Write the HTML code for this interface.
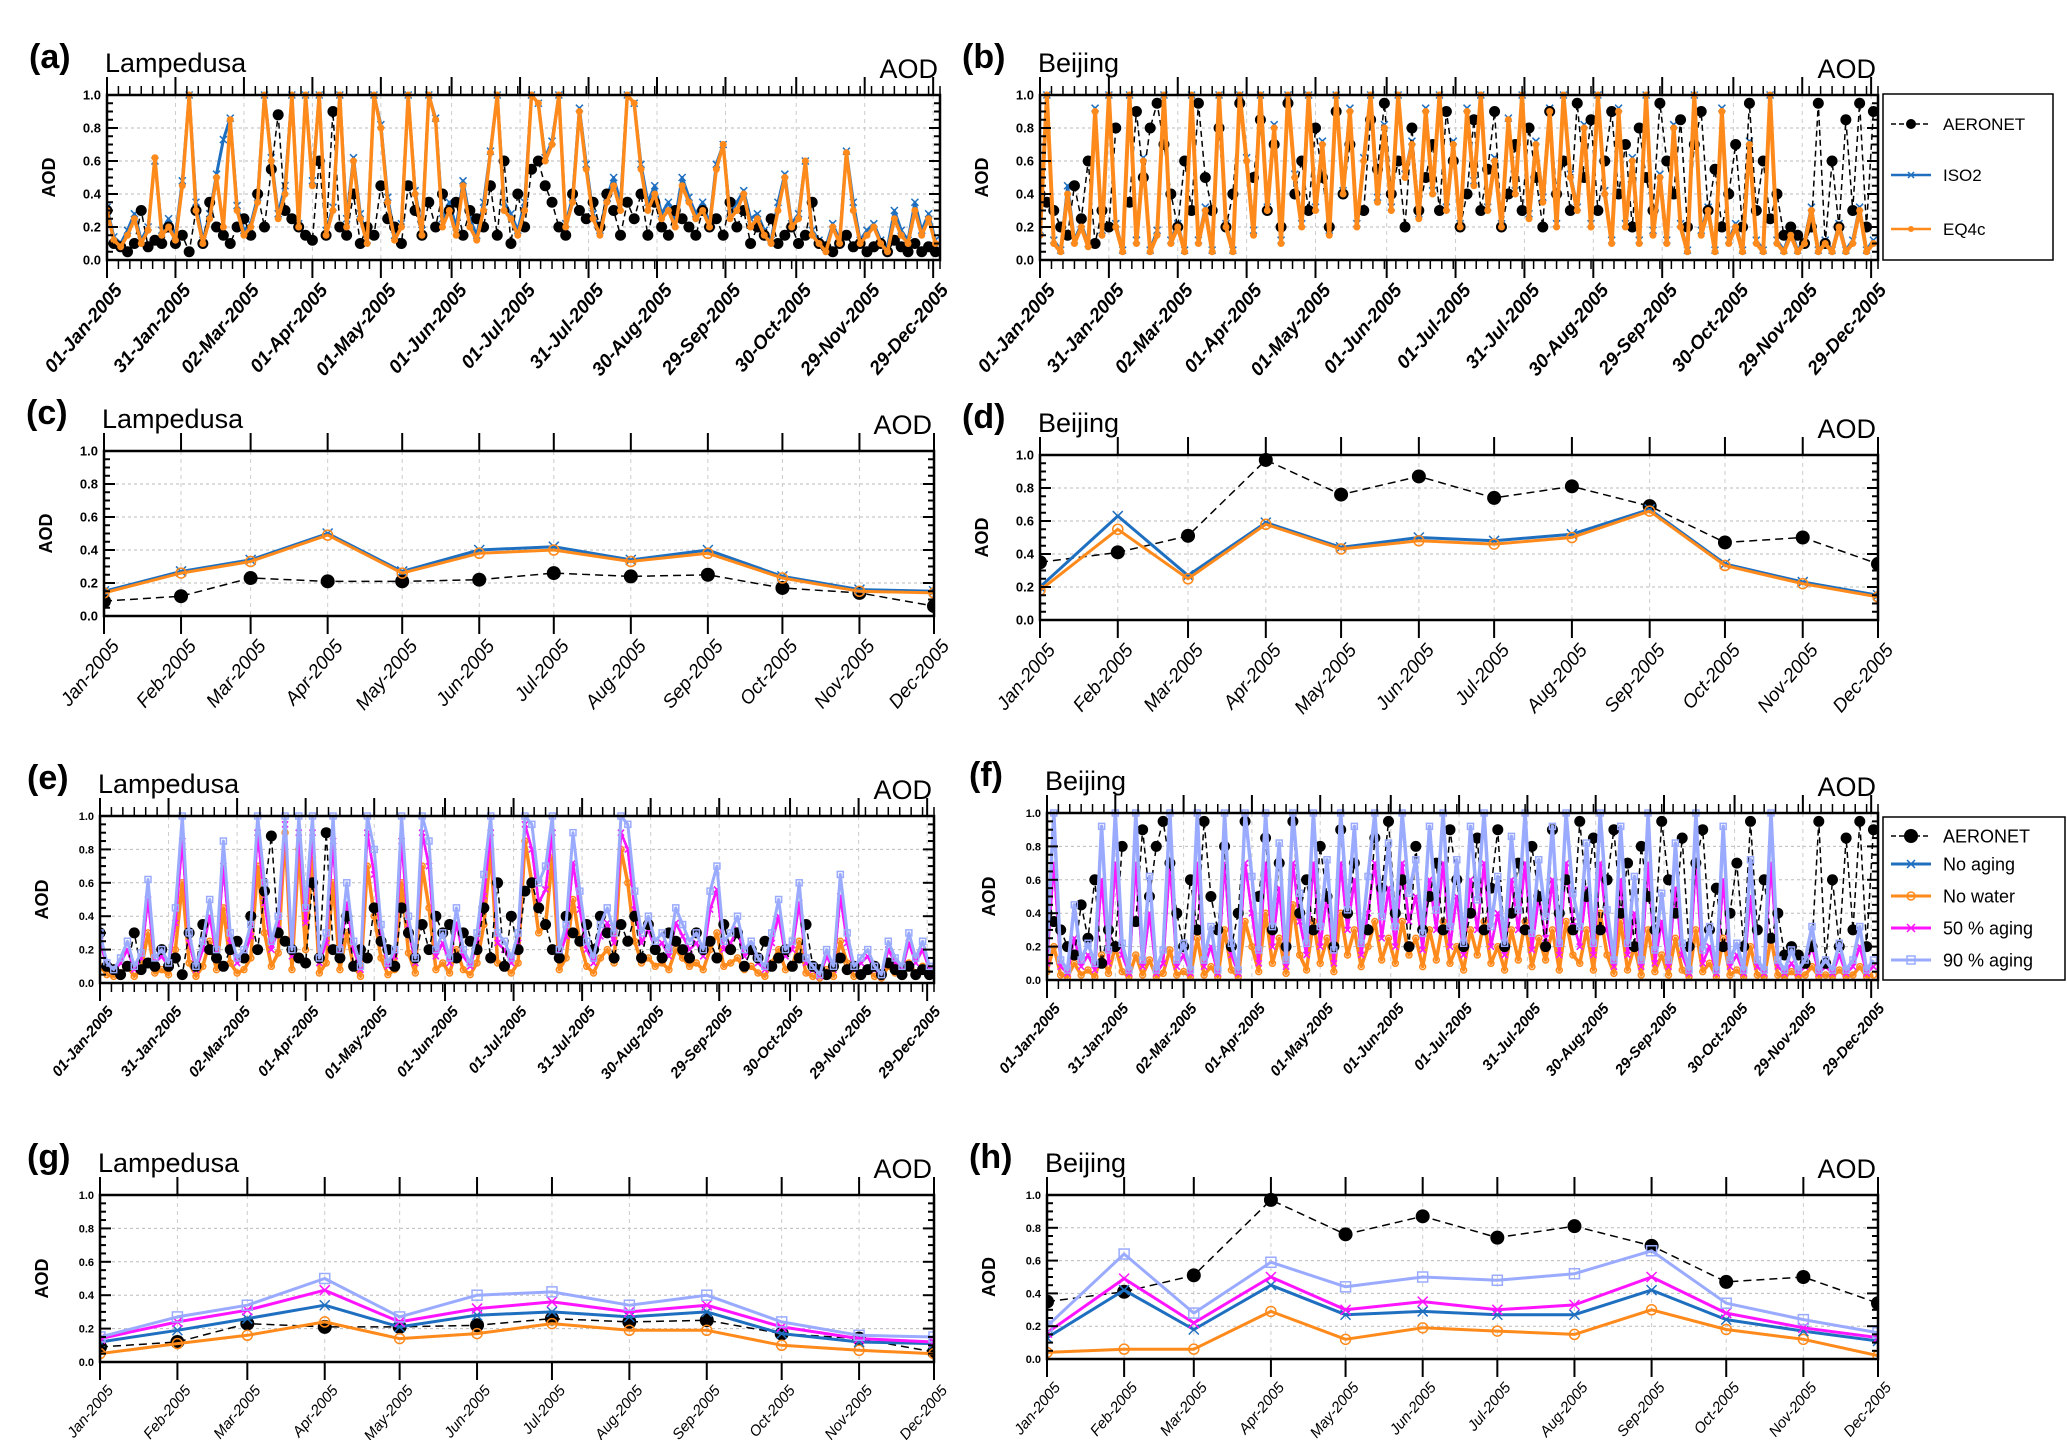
<!DOCTYPE html>
<html><head><meta charset="utf-8"><style>
html,body{margin:0;padding:0;background:#fff;}
svg{display:block;font-family:"Liberation Sans",sans-serif;}
</style></head><body>
<svg id="fig" width="2067" height="1440" viewBox="0 0 2067 1440" xmlns="http://www.w3.org/2000/svg">
<rect x="0" y="0" width="2067" height="1440" fill="#fff"/>
</svg>
<script>
// ---------- monthly data ----------
const monthLabels = ["Jan-2005","Feb-2005","Mar-2005","Apr-2005","May-2005","Jun-2005","Jul-2005","Aug-2005","Sep-2005","Oct-2005","Nov-2005","Dec-2005"];
const monthDays = [0,31,59,90,120,151,181,212,243,273,304,334];
const dayTickLabels = ["01-Jan-2005","31-Jan-2005","02-Mar-2005","01-Apr-2005","01-May-2005","01-Jun-2005","01-Jul-2005","31-Jul-2005","30-Aug-2005","29-Sep-2005","30-Oct-2005","29-Nov-2005","29-Dec-2005"];
const dayTickPos = [0,30,60,90,120,151,181,211,241,271,302,332,362];

const lampMonAer = [.09,.12,.23,.21,.21,.22,.26,.24,.25,.17,.14,.06];
const lampMonISO2 = [.15,.27,.34,.50,.27,.40,.42,.34,.40,.24,.16,.15];
const lampMonEQ4c = [.14,.26,.33,.49,.26,.38,.40,.33,.38,.23,.15,.14];
const beijMonAer = [.35,.41,.51,.97,.76,.87,.74,.81,.69,.47,.50,.34];
const beijMonISO2 = [.20,.63,.27,.59,.44,.50,.48,.52,.67,.34,.23,.15];
const beijMonEQ4c = [.18,.55,.25,.58,.43,.48,.46,.50,.66,.33,.22,.14];
const lampMonNoAging = [.12,.19,.26,.34,.21,.28,.30,.27,.30,.17,.12,.11];
const lampMonNoWater = [.05,.11,.16,.24,.14,.17,.23,.19,.19,.10,.07,.05];
const lampMonFifty = [.14,.24,.31,.43,.24,.32,.36,.30,.34,.21,.14,.12];
const lampMonNinety = [.15,.27,.34,.50,.27,.40,.42,.34,.40,.24,.16,.15];
const beijMonNoAging = [.13,.42,.18,.45,.27,.29,.27,.27,.42,.24,.17,.11];
const beijMonNoWater = [.04,.06,.06,.29,.12,.19,.17,.15,.30,.18,.12,.02];
const beijMonFifty = [.16,.49,.22,.50,.30,.35,.30,.33,.50,.28,.19,.13];
const beijMonNinety = [.20,.64,.28,.59,.44,.50,.48,.52,.66,.34,.24,.16];

// ---------- daily data (every 3 days) ----------
const lampDayAer = [.30,.10,.08,.05,.10,.30,.08,.12,.10,.20, .10,.15,.05,.30,.10,.35,.20,.15,.10,.20, .25,.15,.40,.20,.55,.88,.30,.25,.20,.15, .12,.60,.15,.90,.20,.15,.40,.10,.20,.15, .45,.25,.20,.10,.45,.30,.15,.35,.20,.40, .30,.35,.15,.30,.25,.20,.45,.15,.60,.10, .40,.20,.55,.60,.45,.35,.20,.15,.40,.30, .25,.35,.20,.40,.30,.15,.35,.25,.40,.15, .35,.20,.15,.30,.25,.20,.15,.30,.20,.25, .15,.35,.20,.30,.10,.20,.15,.25,.10,.15, .20,.10,.15,.35,.10,.08,.05,.10,.15,.08, .10,.05,.08,.10,.05,.12,.08,.05,.10,.05,.08,.05];
const lampDayEQ4c = [.30,.12,.08,.15,.25,.10,.18,.62,.15,.20, .12,.45,1.0,.30,.10,.25,.50,.20,.85,.30, .15,.20,.35,1.0,.60,.25,.40,1.0,.20,1.0, .45,1.0,.15,.30,1.0,.20,.60,.25,.10,1.0, .80,.35,.12,.20,1.0,.40,.15,1.0,.85,.20, .30,.15,.45,.20,.12,.30,.65,1.0,.30,.25, .15,.30,1.0,.95,.60,.70,1.0,.20,.35,.90, .55,.25,.15,.35,.45,.30,1.0,.95,.55,.30, .40,.25,.30,.20,.45,.35,.25,.30,.20,.55, .70,.25,.30,.40,.20,.25,.15,.10,.30,.50, .20,.25,.60,.15,.10,.05,.20,.10,.65,.30, .10,.15,.20,.10,.05,.25,.15,.10,.30,.15,.25,.10];
const lampDayISO2 = [.32,.14,.10,.18,.28,.12,.20,.60,.18,.25, .15,.48,1.0,.35,.12,.28,.52,.73,.86,.33, .18,.22,.38,1.0,.62,.28,.45,1.0,.22,1.0, .48,1.0,.18,.32,1.0,.25,.62,.28,.12,1.0, .82,.38,.15,.22,1.0,.42,.18,1.0,.86,.25, .35,.20,.48,.25,.15,.35,.66,1.0,.35,.28, .18,.35,1.0,.95,.62,.72,1.0,.22,.38,.92, .58,.28,.18,.38,.50,.35,1.0,.95,.58,.35, .45,.28,.35,.25,.50,.38,.28,.35,.22,.58, .70,.28,.35,.42,.25,.28,.18,.12,.35,.52, .22,.28,.60,.18,.12,.08,.22,.12,.66,.35, .12,.18,.22,.12,.08,.30,.18,.12,.35,.18,.28,.12];
const lampDayNoWater = [.10,.05,.04,.06,.10,.04,.08,.30,.06,.08, .05,.20,.60,.12,.04,.10,.25,.08,.45,.12, .06,.08,.15,.70,.30,.10,.18,.90,.08,.80, .20,.75,.06,.12,.60,.08,.30,.10,.04,.70, .40,.15,.05,.08,.60,.18,.06,.70,.45,.08, .12,.06,.20,.08,.05,.12,.35,.80,.12,.10, .06,.12,.85,.60,.30,.35,.75,.08,.15,.50, .25,.10,.06,.15,.20,.12,.80,.60,.25,.12, .15,.10,.12,.08,.20,.15,.10,.12,.08,.20, .30,.10,.12,.15,.08,.10,.06,.04,.12,.20, .08,.10,.25,.06,.04,.03,.08,.04,.25,.12, .04,.06,.08,.04,.03,.10,.06,.04,.12,.06,.10,.04];
const lampDayFifty = [.25,.10,.07,.12,.20,.08,.15,.50,.12,.16, .10,.36,.85,.24,.08,.20,.40,.16,.70,.24, .12,.16,.28,.90,.48,.20,.32,.95,.16,.90, .36,.90,.12,.24,.85,.16,.48,.20,.08,.90, .65,.28,.10,.16,.85,.32,.12,.90,.70,.16, .24,.12,.36,.16,.10,.24,.52,.90,.24,.20, .12,.24,.95,.80,.48,.56,.90,.16,.28,.72, .44,.20,.12,.28,.36,.24,.90,.80,.44,.24, .32,.20,.24,.16,.36,.28,.20,.24,.16,.44, .56,.20,.24,.32,.16,.20,.12,.08,.24,.40, .16,.20,.48,.12,.08,.04,.16,.08,.52,.24, .08,.12,.16,.08,.04,.20,.12,.08,.24,.12,.20,.08];
const beijDayAer = [.40,.35,.30,.20,.15,.45,.25,.60,.10,.30, .20,.80,null,.35,.90,.50,.80,.95,.70,.40, .20,.60,.30,.95,.50,.30,.80,.20,.40,.95, null,.50,.85,.30,.70,.20,.95,.40,.60,.30, .80,.50,.20,.90,.40,.70,null,.30,.85,.55, .95,.40,.60,.20,.80,.30,.50,.70,.30,.90, .60,.20,.40,.85,.30,.55,.90,.20,.40,.70, .30,.80,.50,.20,.90,.40,.60,.30,.95,.50, .85,.30,.60,.90,.40,.70,.20,.80,.50,.30, .95,.60,.40,.85,.20,.70,.90,.30,.55,.20, .40,.70,.20,.95,.30,.60,.25,.40,.15,.20, .15,.10,.20,.95,.10,.60,.20,.85,.30,.95,.20,.90];
const beijDayEQ4c = [.15,1.0,.10,.05,.40,.10,.20,.08,.90,.15, 1.0,.20,.05,1.0,.10,.60,.05,.15,1.0,.10, .20,.05,1.0,.10,.30,.05,1.0,.20,.05,1.0, .60,.15,1.0,.30,.80,.10,1.0,.50,.20,1.0, .30,.70,.15,1.0,.40,.90,.20,.60,1.0,.35, .80,.30,1.0,.50,.70,.25,.90,.40,1.0,.30, .70,.20,.90,.45,1.0,.30,.60,.20,.85,.40, 1.0,.25,.70,.35,.90,.20,1.0,.50,.30,.80, .20,1.0,.40,.10,.90,.20,.60,.10,1.0,.15, .50,.10,.80,.20,.05,1.0,.15,.30,.05,.90, .10,.20,.05,.70,.10,.05,1.0,.10,.05,.15, .05,.10,.30,.05,.10,.05,.20,.05,.10,.30,.05,.10];
const beijDayISO2 = [.18,1.0,.12,.06,.45,.12,.22,.10,.92,.18, 1.0,.22,.06,1.0,.12,.62,.06,.18,1.0,.12, .22,.06,1.0,.12,.32,.06,1.0,.22,.06,1.0, .62,.18,1.0,.32,.82,.12,1.0,.52,.22,1.0, .32,.72,.18,1.0,.42,.92,.22,.62,1.0,.38, .82,.32,1.0,.52,.72,.28,.92,.42,1.0,.32, .72,.22,.92,.48,1.0,.32,.62,.22,.86,.42, 1.0,.28,.72,.38,.92,.22,1.0,.52,.32,.82, .22,1.0,.42,.12,.92,.22,.62,.12,1.0,.18, .52,.12,.82,.22,.06,1.0,.18,.32,.06,.92, .12,.22,.06,.72,.12,.06,1.0,.12,.06,.18, .06,.12,.32,.06,.12,.06,.22,.06,.12,.32,.06,.12];
const beijDayNoWater = [.05,.20,.03,.02,.10,.03,.06,.02,.15,.04, .20,.05,.02,.15,.03,.12,.02,.04,.18,.03, .05,.02,.25,.03,.08,.02,.30,.06,.02,.35, .20,.05,.40,.10,.25,.04,.45,.15,.06,.35, .10,.25,.05,.40,.15,.30,.08,.20,.35,.12, .25,.10,.35,.15,.25,.08,.30,.12,.35,.10, .20,.06,.30,.15,.35,.10,.20,.06,.30,.12, .35,.08,.25,.12,.30,.06,.35,.15,.10,.30, .06,.40,.15,.04,.35,.06,.20,.03,.30,.05, .15,.03,.25,.06,.02,.30,.05,.10,.02,.25, .03,.06,.02,.20,.03,.02,.25,.03,.02,.05, .02,.03,.08,.02,.03,.02,.06,.02,.03,.08,.02,.03];
const beijDayFifty = [.10,.70,.08,.04,.25,.08,.15,.06,.60,.10, .70,.15,.04,.70,.08,.40,.04,.10,.70,.08, .15,.04,.70,.08,.20,.04,.70,.15,.04,.70, .40,.10,.70,.20,.55,.08,.70,.35,.15,.70, .20,.50,.10,.70,.30,.60,.15,.40,.70,.25, .55,.20,.70,.35,.50,.18,.60,.30,.70,.20, .50,.15,.60,.30,.70,.20,.40,.15,.60,.30, .70,.18,.50,.25,.60,.15,.70,.35,.20,.55, .15,.70,.30,.08,.60,.15,.40,.08,.70,.10, .35,.08,.55,.15,.04,.70,.10,.20,.04,.60, .08,.15,.04,.50,.08,.04,.70,.08,.04,.10, .04,.08,.20,.04,.08,.04,.15,.04,.08,.20,.04,.08];
const yTickLabels = ["0.0","0.2","0.4","0.6","0.8","1.0"];

const BLK="#000", BLU="#1f6fc0", ORG="#ff8a1c", MAG="#ff14ff", LBL="#9aabff";
const NS="http://www.w3.org/2000/svg";
const svg=document.getElementById('fig');
function mk(tag,attrs,parent){const e=document.createElementNS(NS,tag);for(const k in attrs)e.setAttribute(k,attrs[k]);(parent||svg).appendChild(e);return e;}
let clipId=0;

function marker(g,type,x,y,col,r){
  let e;
  if(type==='dot'){e=mk('circle',{cx:x,cy:y,r:r,fill:col},g);}
  else if(type==='ocircle'){e=mk('circle',{cx:x,cy:y,r:r,fill:'#fff','fill-opacity':0,stroke:col,'stroke-width':1.5},g);}
  else if(type==='x'){e=mk('path',{d:`M${x-r},${y-r}L${x+r},${y+r}M${x-r},${y+r}L${x+r},${y-r}`,stroke:col,'stroke-width':1.5},g);}
  else if(type==='square'){e=mk('rect',{x:x-r,y:y-r,width:2*r,height:2*r,fill:'none',stroke:col,'stroke-width':1.5},g);}
  
  
}

function panel(p){
  const g=mk('g',{});
  
  
  const xs=v=>p.L+(v-p.x0)/(p.x1-p.x0)*(p.R-p.L);
  const ys=v=>p.B-v*(p.B-p.T);
  for(let k=1;k<5;k++){const l=mk('line',{x1:p.L,x2:p.R,y1:ys(k*0.2),y2:ys(k*0.2),stroke:'#bbb','stroke-width':1,'stroke-dasharray':'3,3'},g);}
  p.ticks.forEach(t=>{const l=mk('line',{x1:xs(t),x2:xs(t),y1:p.T,y2:p.B,stroke:'#ccc','stroke-width':1,'stroke-dasharray':'4,4'},g);});
  const id='c'+(clipId++);
  const cp=mk('clipPath',{id:id},g);mk('rect',{x:p.L,y:p.T-8,width:p.R-p.L,height:p.B-p.T+8},cp);
  const sg=mk('g',{'clip-path':`url(#${id})`},g);
  p.series.forEach(s=>{
    const pts=s.data.map((v,i)=>[xs(s.xv(i)),v==null?null:ys(Math.min(v,1.02))]);
    let d='',pen=false;
    pts.forEach(q=>{if(q[1]==null){pen=false;return;}d+=(pen?'L':'M')+q[0].toFixed(1)+','+q[1].toFixed(1);pen=true;});
    const path=mk('path',{d:d,fill:'none',stroke:s.col,'stroke-width':s.lw,'stroke-dasharray':s.dash||'none','stroke-linejoin':'round'},sg);
    
    
    if(s.mk)pts.forEach(q=>{if(q[1]!=null)marker(sg,s.mk,q[0],q[1],s.mcol||s.col,s.mr);});
  });
  const fr=mk('rect',{x:p.L,y:p.T,width:p.R-p.L,height:p.B-p.T,fill:'none',stroke:'#000','stroke-width':2.5},g);
  
  for(let k=0;k<=20;k++){const v=k*0.05,len=k%4===0?11:6,y=ys(v);
    mk('line',{x1:p.L,x2:p.L+len,y1:y,y2:y,stroke:'#000','stroke-width':2},g);
    mk('line',{x1:p.R,x2:p.R-len,y1:y,y2:y,stroke:'#000','stroke-width':2},g);}
  yTickLabels.forEach((t,k)=>{const e=mk('text',{x:p.L-6,y:ys(k*0.2)+p.yf*0.36,'text-anchor':'end','font-size':p.yf,'font-weight':'bold'},g);e.textContent=t;});
  if(p.minor){for(let d=0;d<=p.x1;d+=p.minor){const x=xs(d);mk('line',{x1:x,x2:x,y1:p.B,y2:p.B+9,stroke:'#000','stroke-width':1.5},g);mk('line',{x1:x,x2:x,y1:p.T,y2:p.T-9,stroke:'#000','stroke-width':1.5},g);}}
  p.ticks.forEach((t,k)=>{const x=xs(t);
    mk('line',{x1:x,x2:x,y1:p.B,y2:p.B+18,stroke:'#000','stroke-width':2},g);
    mk('line',{x1:x,x2:x,y1:p.T,y2:p.T-18,stroke:'#000','stroke-width':2},g);
    const ty=p.B+22;
    const e=mk('text',{x:x+6,y:ty+p.xf*0.7,'text-anchor':'end','font-size':p.xf,'font-style':'italic','font-weight':p.xw||'normal',transform:`rotate(-50 ${x+6} ${ty})`},g);
    e.textContent=p.tickLabels[k];});
  let e=mk('text',{x:p.L-78+p.lblDx,y:p.T-27,'font-size':34,'font-weight':'bold'},g);e.textContent=p.letter;
  e=mk('text',{x:p.L-2,y:p.T-23,'font-size':27},g);e.textContent=p.site;
  e=mk('text',{x:p.R-2,y:p.T-17,'font-size':27,'text-anchor':'end'},g);e.textContent='AOD';
  const cy=(p.T+p.B)/2;
  e=mk('text',{x:p.L-52,y:cy,'font-size':18,'text-anchor':'middle','font-weight':'bold',transform:`rotate(-90 ${p.L-52} ${cy})`},g);e.textContent='AOD';
}

const dx=i=>3*i, mx=i=>monthDays[i];
function S(name,data,col,lw,mk_,mr,xv,dash){return {name,data,col,lw,mk:mk_,mr,xv,dash};}
const dailyCfg={x0:0,x1:365,ticks:dayTickPos,tickLabels:dayTickLabels,minor:5,xw:'bold'};
const monCfg={x0:0,x1:334,ticks:monthDays,tickLabels:monthLabels,minor:0};

panel(Object.assign({name:'panel-a',letter:'(a)',site:'Lampedusa',L:107,R:940,T:95,B:260,xf:19,yf:13,lblDx:0,series:[
  S('iso2-line',lampDayISO2,BLU,3,'x',3.5,dx),
  S('aeronet-line',lampDayAer,BLK,1.5,'dot',5.5,dx,'6,4'),
  S('eq4c-line',lampDayEQ4c,ORG,3.5,'dot',3.5,dx)]},dailyCfg));
panel(Object.assign({name:'panel-b',letter:'(b)',site:'Beijing',L:1040,R:1878,T:95,B:260,xf:19,yf:13,lblDx:0,series:[
  S('iso2-line',beijDayISO2,BLU,3,'x',3.5,dx),
  S('aeronet-line',beijDayAer,BLK,1.5,'dot',5.5,dx,'6,4'),
  S('eq4c-line',beijDayEQ4c,ORG,4,'dot',3.5,dx)]},dailyCfg));
panel(Object.assign({name:'panel-c',letter:'(c)',site:'Lampedusa',L:104,R:934,T:451,B:616,xf:19,yf:13,lblDx:0,series:[
  S('aeronet-line',lampMonAer,BLK,1.5,'dot',7,mx,'8,5'),
  S('iso2-line',lampMonISO2,BLU,3,'x',5,mx),
  S('eq4c-line',lampMonEQ4c,ORG,3,'ocircle',5,mx)]},monCfg));
panel(Object.assign({name:'panel-d',letter:'(d)',site:'Beijing',L:1040,R:1878,T:455,B:620,xf:19,yf:13,lblDx:0,series:[
  S('aeronet-line',beijMonAer,BLK,1.5,'dot',7,mx,'8,5'),
  S('iso2-line',beijMonISO2,BLU,3,'x',5,mx),
  S('eq4c-line',beijMonEQ4c,ORG,3,'ocircle',5,mx)]},monCfg));
panel(Object.assign({name:'panel-e',letter:'(e)',site:'Lampedusa',L:100,R:934,T:816,B:983,xf:15,yf:11,lblDx:5,series:[
  S('no-aging-line',lampDayFifty,BLU,2.5,'x',3,dx),
  S('no-water-line',lampDayNoWater,ORG,3.5,'ocircle',3,dx),
  S('fifty-aging-line',lampDayFifty,MAG,2.5,'x',3,dx),
  S('aeronet-line',lampDayAer,BLK,1.5,'dot',5.5,dx,'6,4'),
  S('ninety-aging-line',lampDayEQ4c,LBL,3,'square',3,dx)]},dailyCfg));
panel(Object.assign({name:'panel-f',letter:'(f)',site:'Beijing',L:1047,R:1878,T:813,B:980,xf:15,yf:11,lblDx:0,series:[
  S('no-aging-line',beijDayFifty,BLU,2.5,'x',3,dx),
  S('no-water-line',beijDayNoWater,ORG,3.5,'ocircle',3,dx),
  S('fifty-aging-line',beijDayFifty,MAG,2.5,'x',3,dx),
  S('aeronet-line',beijDayAer,BLK,1.5,'dot',5.5,dx,'6,4'),
  S('ninety-aging-line',beijDayISO2,LBL,3.5,'square',3,dx)]},dailyCfg));
panel(Object.assign({name:'panel-g',letter:'(g)',site:'Lampedusa',L:100,R:934,T:1195,B:1362,xf:15,yf:11,lblDx:5,series:[
  S('aeronet-line',lampMonAer,BLK,1.5,'dot',7,mx,'8,5'),
  S('no-water-line',lampMonNoWater,ORG,3,'ocircle',5,mx),
  S('no-aging-line',lampMonNoAging,BLU,3,'x',5,mx),
  S('fifty-aging-line',lampMonFifty,MAG,3,'x',5,mx),
  S('ninety-aging-line',lampMonNinety,LBL,3,'square',5,mx)]},monCfg));
panel(Object.assign({name:'panel-h',letter:'(h)',site:'Beijing',L:1047,R:1878,T:1195,B:1359,xf:15,yf:11,lblDx:0,series:[
  S('aeronet-line',beijMonAer,BLK,1.5,'dot',7,mx,'8,5'),
  S('no-water-line',beijMonNoWater,ORG,3,'ocircle',5,mx),
  S('no-aging-line',beijMonNoAging,BLU,3,'x',5,mx),
  S('fifty-aging-line',beijMonFifty,MAG,3,'x',5,mx),
  S('ninety-aging-line',beijMonNinety,LBL,3,'square',5,mx)]},monCfg));

function legend(name,x,y,w,h,items,fs){
  const g=mk('g',{});
  
  
  mk('rect',{x:x,y:y,width:w,height:h,fill:'#fff',stroke:'#000','stroke-width':1.5},g);
  items.forEach(it=>{
    const ly=it.y;
    const ln=mk('line',{x1:x+8,x2:x+48,y1:ly,y2:ly,stroke:it.col,'stroke-width':it.lw,'stroke-dasharray':it.dash||'none'},g);
    
    marker(g,it.mk,x+28,ly,it.col,it.mr);
    const t=mk('text',{x:x+60,y:ly+fs*0.35,'font-size':fs},g);t.textContent=it.label;
    
  });
}
legend('legend-b',1883,94,170,166,[
  {label:'AERONET',col:BLK,lw:1.5,dash:'5,3',mk:'dot',mr:5,y:124},
  {label:'ISO2',col:BLU,lw:2.5,mk:'x',mr:3,y:175},
  {label:'EQ4c',col:ORG,lw:2.5,mk:'dot',mr:3,y:229}],17);
legend('legend-f',1883,817,182,163,[
  {label:'AERONET',col:BLK,lw:1.5,dash:'5,3',mk:'dot',mr:7,y:836},
  {label:'No aging',col:BLU,lw:3,mk:'x',mr:4,y:864},
  {label:'No water',col:ORG,lw:3,mk:'ocircle',mr:4,y:896},
  {label:'50 % aging',col:MAG,lw:3,mk:'x',mr:4,y:928},
  {label:'90 % aging',col:LBL,lw:3,mk:'square',mr:4,y:960}],18);
</script>
</body></html>
